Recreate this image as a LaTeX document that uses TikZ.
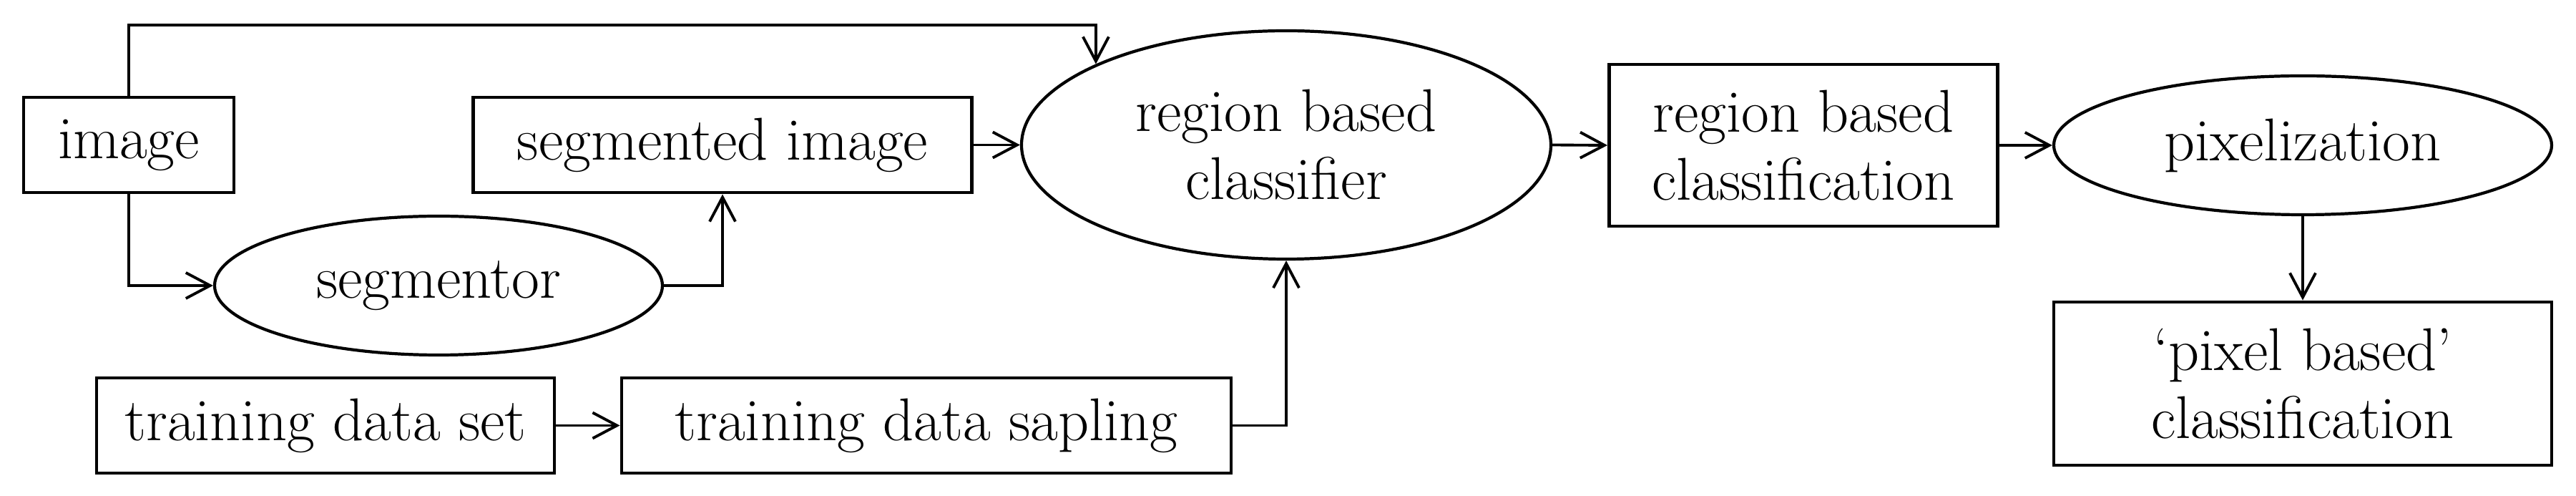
\documentclass[tikz,border=0pt]{standalone}
\usetikzlibrary{shapes.geometric,arrows.meta}
\begin{document}
\begin{tikzpicture}[
  font=\fontsize{24}{27}\selectfont,
  blk/.style={draw, line width=1.4pt, inner sep=0pt, align=center},
  oval/.style={draw, ellipse, line width=1.2pt, inner sep=0pt, align=center},
  flow/.style={line width=1.1pt, -{Straight Barb[length=3.4mm,width=3.6mm]}}
]
\useasboundingbox (0,0) rectangle (36.01,6.93);

\node[blk, minimum width=2.94cm, minimum height=1.33cm] (image) at (1.80,4.905) {image};
\node[blk, minimum width=6.97cm, minimum height=1.33cm] (segimg) at (10.10,4.905) {segmented image};
\node[oval, minimum width=6.26cm, minimum height=1.94cm] (segmentor) at (6.13,2.94) {segmentor};
\node[blk, minimum width=6.40cm, minimum height=1.33cm] (tdset) at (4.55,0.985) {training data set};
\node[blk, minimum width=8.52cm, minimum height=1.33cm] (tdsamp) at (12.95,0.985) {training data sapling};
\node[oval, minimum width=7.40cm, minimum height=3.19cm] (clf) at (17.98,4.905) {region based\\classifier};
\node[blk, minimum width=5.43cm, minimum height=2.26cm] (rbc) at (25.21,4.90) {region based\\classification};
\node[oval, minimum width=6.96cm, minimum height=1.94cm] (pix) at (32.19,4.90) {pixelization};
\node[blk, minimum width=6.96cm, minimum height=2.28cm] (pbc) at (32.19,1.57) {`pixel based'\\classification};

\coordinate (rail) at (0,6.58);

\draw[flow] (image.north) |- (clf.157 |- rail) -- (clf.157);
\draw[flow] (image.south) |- (segmentor.west);
\draw[flow] (segmentor.east) -| (segimg.south);
\draw[flow] (segimg.east) -- (clf.west);
\draw[flow] (tdset.east) -- (tdsamp.west);
\draw[flow] (tdsamp.east) -| (clf.south);
\draw[flow] (clf.east) -- (rbc.west);
\draw[flow] (rbc.east) -- (pix.west);
\draw[flow] (pix.south) -- (pbc.north);
\end{tikzpicture}
\end{document}
